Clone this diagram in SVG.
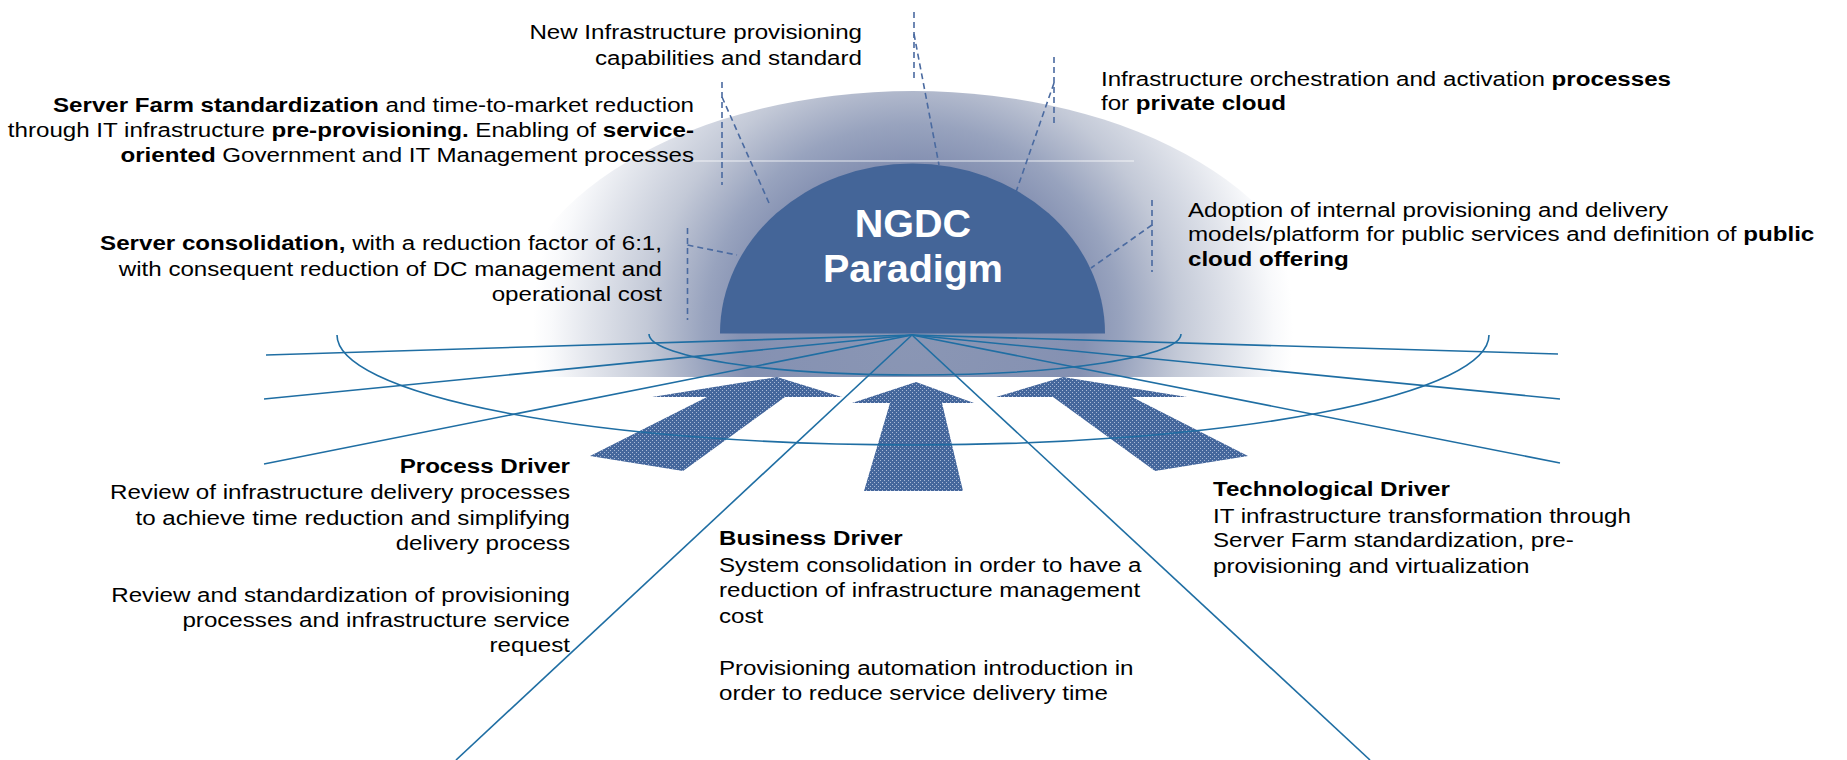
<svg xmlns="http://www.w3.org/2000/svg" width="1847" height="760" viewBox="0 0 1847 760">
<style>
  .t{font-family:"Liberation Sans",Arial,sans-serif;font-size:21px;fill:#000}
  .b{font-weight:bold}
  .ttl{font-family:"Liberation Sans",Arial,sans-serif;font-size:39.5px;font-weight:bold;fill:#fff}
  .ray{stroke:#1f6ea3;stroke-width:1.6;fill:none}
  .dash{stroke:#4a6aa0;stroke-width:1.6;stroke-dasharray:6 4;fill:none}
  .arrow{fill:url(#dots)}
</style>
<defs>
  <radialGradient id="halo" gradientUnits="userSpaceOnUse" cx="913" cy="333" r="380">
    <stop offset="0" stop-color="#8a96b4"/>
    <stop offset="0.45" stop-color="#8591b2"/>
    <stop offset="0.55" stop-color="#98a3be"/>
    <stop offset="0.63" stop-color="#afb7cb"/>
    <stop offset="0.7" stop-color="#c3c9d7"/>
    <stop offset="0.85" stop-color="#e2e5ec"/>
    <stop offset="0.95" stop-color="#f8f9fb"/>
    <stop offset="1" stop-color="#ffffff"/>
  </radialGradient>
  <clipPath id="haloClip"><rect x="0" y="0" width="1847" height="377"/></clipPath>
  <pattern id="dots" width="4" height="4" patternUnits="userSpaceOnUse">
    <rect width="4" height="4" fill="#45679c"/>
    <rect x="0" y="0" width="1" height="1" fill="#a9b9d6"/>
    <rect x="2" y="2" width="1" height="1" fill="#a9b9d6"/>
  </pattern>
</defs>
<rect width="1847" height="760" fill="#fff"/>

<g id="halo-dome" clip-path="url(#haloClip)">
  <ellipse cx="913" cy="333" rx="405" ry="242" fill="url(#halo)"/>
  <line x1="693" y1="161" x2="1134" y2="161" stroke="#ffffff" stroke-width="1.2" opacity="0.8"/>
</g>

<g id="callout-leaders">
  <line class="dash" x1="914" y1="12" x2="914" y2="82"/>
  <line class="dash" x1="914" y1="34" x2="939" y2="165"/>
  <line class="dash" x1="722" y1="82" x2="722" y2="185"/>
  <line class="dash" x1="722" y1="97" x2="769" y2="203"/>
  <line class="dash" x1="1054" y1="57" x2="1054" y2="127"/>
  <line class="dash" x1="1054" y1="83" x2="1016" y2="192"/>
  <line class="dash" x1="687.5" y1="228" x2="687.5" y2="320"/>
  <line class="dash" x1="687.5" y1="245" x2="737" y2="255"/>
  <line class="dash" x1="1152" y1="200" x2="1152" y2="272"/>
  <line class="dash" x1="1152" y1="225" x2="1091" y2="268"/>
</g>

<g id="ngdc-paradigm">
  <path d="M720 333.5 A192.5 170 0 0 1 1105 333.5 Z" fill="#446598"/>
  <text class="ttl" x="913" y="236.5" text-anchor="middle">NGDC</text>
  <text class="ttl" x="913" y="281.5" text-anchor="middle">Paradigm</text>
</g>

<g id="arrows">
  <polygon id="arrow-process" class="arrow" points="777,377 842,397 785,397 683,471 590,456 707,397 652,397"/>
  <polygon id="arrow-business" class="arrow" points="916,382 974,403 942,403 963,491 864,491 890,403 852,403"/>
  <polygon id="arrow-tech" class="arrow" points="1063,377 1187,397 1132,397 1248,456 1155,471 1053,397 996,397"/>
</g>

<g id="connectors">
  <line class="ray" x1="912" y1="335" x2="266" y2="355"/>
  <line class="ray" x1="912" y1="335" x2="264" y2="399"/>
  <line class="ray" x1="912" y1="335" x2="264" y2="464"/>
  <line class="ray" x1="912" y1="335" x2="1558" y2="354"/>
  <line class="ray" x1="912" y1="335" x2="1560" y2="399"/>
  <line class="ray" x1="912" y1="335" x2="1560" y2="463"/>
  <line class="ray" x1="912" y1="335" x2="456" y2="760"/>
  <line class="ray" x1="912" y1="335" x2="1370" y2="760"/>
  <path class="ray" d="M337 335 A576 110 0 0 0 1489 335"/>
  <path class="ray" d="M649 334 A266 41 0 0 0 1181 334"/>
</g>

<g id="label-new-infra" transform="matrix(1.15,0,0,1,-129.3,0)">
  <text class="t" text-anchor="end"><tspan x="862" y="39">New Infrastructure provisioning</tspan><tspan x="862" y="65">capabilities and standard</tspan></text>
</g>

<g id="label-server-farm" transform="matrix(1.15,0,0,1,-104.1,0)">
  <text class="t" text-anchor="end" x="694" y="112"><tspan class="b">Server Farm standardization</tspan> and time-to-market reduction</text>
  <text class="t" text-anchor="end" x="694" y="137">through IT infrastructure <tspan class="b">pre-provisioning.</tspan> Enabling of <tspan class="b">service-</tspan></text>
  <text class="t" text-anchor="end" x="694" y="162"><tspan class="b">oriented</tspan> Government and IT Management processes</text>
</g>

<g id="label-consolidation" transform="matrix(1.15,0,0,1,-99.3,0)">
  <text class="t" text-anchor="end" x="662" y="250"><tspan class="b">Server consolidation,</tspan> with a reduction factor of 6:1,</text>
  <text class="t" text-anchor="end" x="662" y="276">with consequent reduction of DC management and</text>
  <text class="t" text-anchor="end" x="662" y="301">operational cost</text>
</g>

<g id="label-orchestration" transform="matrix(1.15,0,0,1,-165.15,0)">
  <text class="t" x="1101" y="86">Infrastructure orchestration and activation <tspan class="b">processes</tspan></text>
  <text class="t" x="1101" y="110">for <tspan class="b">private cloud</tspan></text>
</g>

<g id="label-public-cloud" transform="matrix(1.15,0,0,1,-178.2,0)">
  <text class="t" x="1188" y="217">Adoption of internal provisioning and delivery</text>
  <text class="t" x="1188" y="241">models/platform for public services and definition of <tspan class="b">public</tspan></text>
  <text class="t" x="1188" y="266"><tspan class="b">cloud offering</tspan></text>
</g>

<g id="process-driver" transform="matrix(1.15,0,0,1,-85.5,0)">
  <text class="t b" text-anchor="end" x="570" y="473">Process Driver</text>
  <text class="t" text-anchor="end" x="570" y="499">Review of infrastructure delivery processes</text>
  <text class="t" text-anchor="end" x="570" y="525">to achieve time reduction and simplifying</text>
  <text class="t" text-anchor="end" x="570" y="550">delivery process</text>
  <text class="t" text-anchor="end" x="570" y="602">Review and standardization of provisioning</text>
  <text class="t" text-anchor="end" x="570" y="627">processes and infrastructure service</text>
  <text class="t" text-anchor="end" x="570" y="652">request</text>
</g>

<g id="business-driver" transform="matrix(1.15,0,0,1,-107.85,0)">
  <text class="t b" x="719" y="545">Business Driver</text>
  <text class="t" x="719" y="572">System consolidation in order to have a</text>
  <text class="t" x="719" y="597">reduction of infrastructure management</text>
  <text class="t" x="719" y="623">cost</text>
  <text class="t" x="719" y="675">Provisioning automation introduction in</text>
  <text class="t" x="719" y="700">order to reduce service delivery time</text>
</g>

<g id="technological-driver" transform="matrix(1.15,0,0,1,-181.95,0)">
  <text class="t b" x="1213" y="496">Technological Driver</text>
  <text class="t" x="1213" y="523">IT infrastructure transformation through</text>
  <text class="t" x="1213" y="547">Server Farm standardization, pre-</text>
  <text class="t" x="1213" y="573">provisioning and virtualization</text>
</g>
</svg>
